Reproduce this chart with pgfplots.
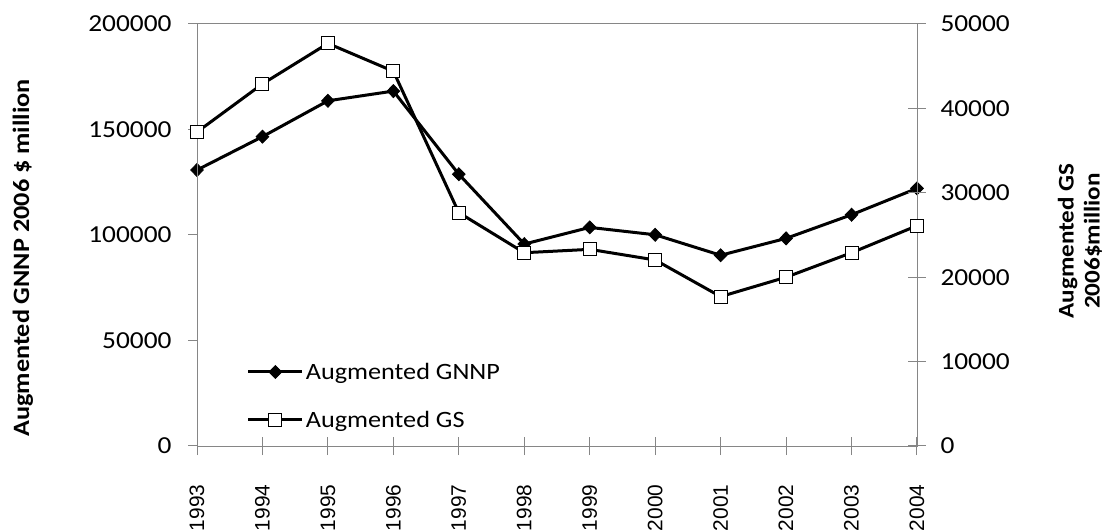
\documentclass[border=0pt]{standalone}
\usepackage{fontspec}
\setmainfont{Carlito}[FakeStretch=1.12]
\newfontfamily\yearfont{Liberation Sans}
\usepackage{pgfplots}
\pgfplotsset{compat=1.18}
\definecolor{axgray}{HTML}{868686}
\pgfplotstableread{
year gnnp gs
1993 130800 37200
1994 146600 42900
1995 163600 47700
1996 168200 44400
1997 128800 27650
1998 95700 22900
1999 103600 23300
2000 100100 22040
2001 90400 17700
2002 98400 20000
2003 109600 22900
2004 122100 26100
}\datatab
\begin{document}
\begin{tikzpicture}
\path[use as bounding box] (0bp,0bp) rectangle (1110bp,530bp);
\pgfplotsset{
  common/.style={
    at={(197bp,84bp)}, anchor=south west,
    scale only axis, width=720bp, height=422bp,
    xmin=1993, xmax=2004,
    axis line style={axgray, line width=1bp},
    tick style={axgray, line width=1bp},
    scaled ticks=false,
    /pgf/number format/assume math mode=true,
    /pgf/number format/1000 sep={},
    /pgf/number format/fixed,
    ticklabel style={font=\fontsize{24.5}{26}\selectfont, text=black},
  }
}
% Axis A: box, x ticks, GNNP
\begin{axis}[common,
  ymin=0, ymax=200000,
  ytick=\empty,
  xtick={1993,...,2004}, xtick pos=bottom,
  tick align=center, major tick length=18bp,
  xticklabel style={rotate=90, anchor=east, font=\yearfont\fontsize{21}{22}\selectfont},
  xticklabel shift=26bp,
]
\addplot[black, line width=3bp, mark=diamond*, mark size=6.5bp,
  mark options={solid, line width=0.8bp, fill=black, xscale=1.3}]
  table[x=year, y=gnnp] {\datatab};
\end{axis}
% Axis B: left y axis
\begin{axis}[common,
  ymin=0, ymax=200000,
  axis x line=none, axis y line*=left,
  ytick={0,50000,...,200000},
  tick align=outside, major tick length=9bp,
  yticklabel shift=13bp,
]
\end{axis}
% Axis C: right y axis, GS
\begin{axis}[common,
  ymin=0, ymax=50000,
  axis x line=none, axis y line*=right,
  ytick={0,10000,...,50000},
  tick align=center, major tick length=18bp,
  yticklabel shift=11bp,
  legend style={at={(0.069,0.036)}, anchor=south west, draw=none, fill=none,
    font=\fontsize{23.5}{26}\selectfont, row sep=26bp, inner sep=0bp,
    nodes={inner sep=2bp}},
  legend cell align=left,
  legend image code/.code={\draw[mark repeat=2,mark phase=2,#1] plot coordinates {(0bp,0bp)(27bp,0bp)(54bp,0bp)};},
]
\addlegendimage{black, line width=3bp, mark=diamond*, mark size=6.5bp,
  mark options={solid, line width=0.8bp, fill=black, xscale=1.3}}
\addlegendentry{Augmented GNNP}
\addplot[black, line width=3bp, mark=square*, mark size=6.5bp,
  mark options={solid, line width=1bp, fill=white, draw=black}]
  table[x=year, y=gs] {\datatab};
\addlegendentry{Augmented GS}
\end{axis}
\node[rotate=90, font=\bfseries\fontsize{23.5}{24}\selectfont] at (23bp,272bp) {Augmented GNNP 2006 \$ million};
\node[rotate=90, font=\bfseries\fontsize{22.5}{26}\selectfont, align=center] at (1080bp,289bp) {Augmented GS\\2006\$million};
\end{tikzpicture}
\end{document}
